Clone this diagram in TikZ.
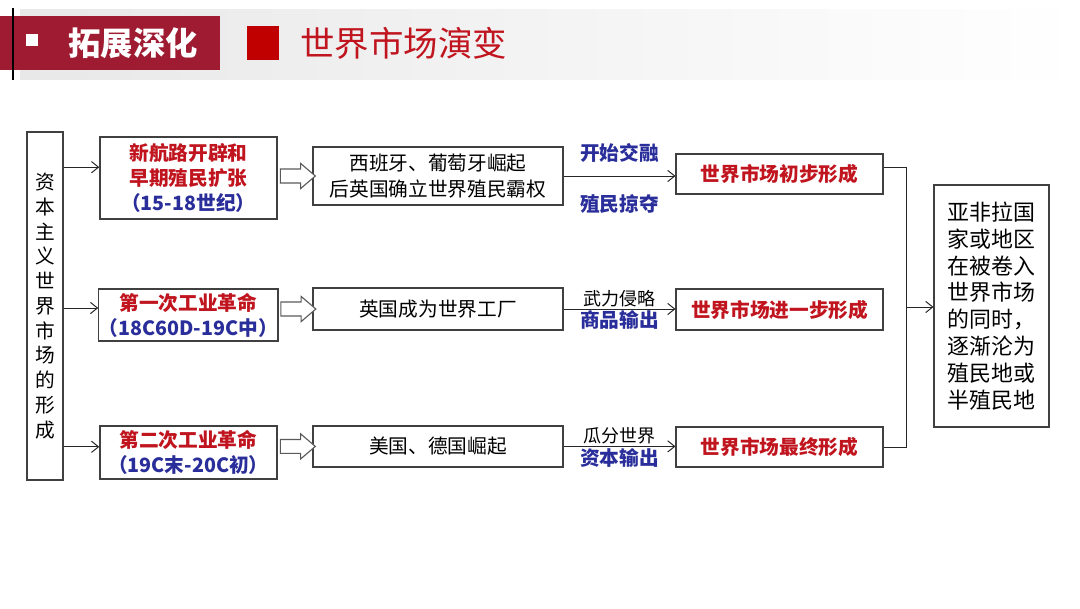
\documentclass[tikz,border=0pt]{standalone}
\usepackage{fontspec}
\setmainfont{Noto Sans CJK SC}
\usepackage{xcolor}
\usepackage{tikz}
\usetikzlibrary{arrows.meta,positioning,shapes.arrows,calc}
\definecolor{hdred}{HTML}{9E1B32}
\definecolor{sqred}{HTML}{C00000}
\definecolor{txred}{HTML}{C0141E}
\definecolor{txblue}{HTML}{2A2E9A}
\definecolor{bdgray}{HTML}{404040}
\definecolor{argray}{HTML}{5A5A5A}

\begin{document}
\begin{tikzpicture}[
    >={Straight Barb[length=5pt,width=8pt]},
    box/.style={rectangle, draw=bdgray, line width=0.9pt, fill=white, align=center, inner sep=0pt},
    stage/.style={box, minimum width=4.425cm, font=\fontsize{14}{17.8}\selectfont\bfseries},
    event/.style={box, minimum width=6.25cm, font=\fontsize{14}{18.5}\selectfont},
    market/.style={box, minimum width=5.175cm, minimum height=1cm, text=txred, font=\fontsize{14}{17}\selectfont\bfseries},
    lblb/.style={inner sep=1pt, text=txblue, font=\fontsize{14}{16}\selectfont\bfseries},
    lblk/.style={inner sep=1pt, font=\fontsize{12.8}{14}\selectfont},
    link/.style={->, line width=0.7pt, draw=black!85},
    blk/.style={single arrow, draw=argray, line width=0.8pt, fill=white, inner xsep=0pt, inner ysep=0.16cm,
        single arrow head extend=0.14cm, single arrow tip angle=81, minimum height=0.875cm},
]
\useasboundingbox (0,0) rectangle (27,15.2);

% Header
\shade[left color=black!9, right color=white] (0.5,13.2) rectangle (27,14.95);
\fill[hdred] (0,13.45) rectangle (5.5,14.8);
\draw[line width=0.8pt] (0.325,13.2) -- (0.325,15.0);
\fill[white] (0.66,14.06) rectangle (0.94,14.34);
\node[inner sep=0pt, text=white, font=\fontsize{23}{23}\selectfont\bfseries] (sec) at (3.33,14.12) {拓展深化};
\fill[sqred] (6.175,13.7) rectangle (6.975,14.55);
\node[anchor=west, inner sep=0pt, text=txred, font=\fontsize{24.5}{24.5}\selectfont] (ttl) at (7.5,14.12) {世界市场演变};

% Left column
\node[box, minimum width=0.9cm, minimum height=8.7cm, font=\fontsize{14}{17.6}\selectfont] (src) at (1.125,7.55)
    {资\\本\\主\\义\\世\\界\\市\\场\\的\\形\\成};

% Stages
\node[stage, minimum height=2.05cm] (a1) at (4.71,10.75)
    {\textcolor{txred}{新航路开辟和}\\\textcolor{txred}{早期殖民扩张}\\\textcolor{txblue}{（15-18世纪）}};
\node[stage, minimum height=1.3cm] (a2) at (4.71,7.325)
    {\textcolor{txred}{第一次工业革命}\\\textcolor{txblue}{（18C60D-19C中）}};
\node[stage, minimum height=1.325cm] (a3) at (4.71,3.89)
    {\textcolor{txred}{第二次工业革命}\\\textcolor{txblue}{（19C末-20C初）}};

% Events
\node[event, minimum height=1.45cm] (b1) at (10.95,10.8) {西班牙、葡萄牙崛起\\后英国确立世界殖民霸权};
\node[event, minimum height=1.05cm] (b2) at (10.95,7.475) {英国成为世界工厂};
\node[event, minimum height=1.025cm] (b3) at (10.95,4.04) {美国、德国崛起};

% Markets
\node[market] (c1) at (19.49,10.85) {世界市场初步形成};
\node[market, minimum height=1.025cm] (c2) at (19.49,7.46) {世界市场进一步形成};
\node[market] (c3) at (19.49,4.025) {世界市场最终形成};

% Result
\node[box, minimum width=2.875cm, minimum height=6.05cm, align=left, font=\fontsize{15.6}{19.1}\selectfont] (d) at (24.79,7.55)
    {亚非拉国\\家或地区\\在被卷入\\世界市场\\的同时，\\逐渐沦为\\殖民地或\\半殖民地};

% Connectors
\foreach \i/\dy in {1/0.27, 2/0.175, 3/0.14} {
    \coordinate (r\i) at ([yshift=\dy cm]a\i.west);
    \draw[link] (src.east |- r\i) -- (r\i);
    \node[blk] (p\i) at ($(a\i.east |- b\i.west)!0.5!(b\i.west)+(-0.03,0)$) {};
}

\draw[link] (b1.east) -- (c1.west |- b1.east)
    node[midway, above=0.3cm, lblb] (l1a) {开始交融}
    node[midway, below=0.42cm, lblb] (l1b) {殖民掠夺};
\draw[link] (b2.east) -- (c2.west |- b2.east)
    node[midway, above=0pt, lblk] (l2a) {武力侵略}
    node[midway, below=0pt, lblb] (l2b) {商品输出};
\draw[link] (b3.east) -- (c3.west |- b3.east)
    node[midway, above=0pt, lblk] (l3a) {瓜分世界}
    node[midway, below=0pt, lblb] (l3b) {资本输出};

\coordinate (j) at (22.65,7.525);
\draw[line width=0.7pt, black!85] ([yshift=0.17cm]c1.east) -| (j) |- (c3.east);
\draw[link] (j) -- (d.west |- j);

\end{tikzpicture}
\end{document}
